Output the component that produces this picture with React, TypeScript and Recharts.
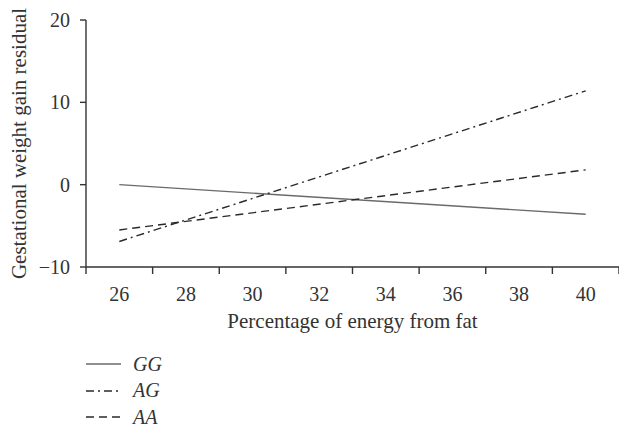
import { LineChart, Line, XAxis, YAxis } from 'recharts';

const fatPct = [26, 40];
const ggResidual = [0, -3.6];
const agResidual = [-6.9, 11.4];
const aaResidual = [-5.5, 1.8];

const xTicks = [25, 26, 27, 28, 29, 30, 31, 32, 33, 34, 35, 36, 37, 38, 39, 40, 41];
const yTicks = [-10, 0, 10, 20];

const series = [
  { key: 'GG', color: '#6a6a6a', dash: undefined as string | undefined },
  { key: 'AG', color: '#2a2a2a', dash: '8 4 2 4' },
  { key: 'AA', color: '#2a2a2a', dash: '8 5' },
];

const data = fatPct.map((x, i) => ({
  x,
  GG: ggResidual[i],
  AG: agResidual[i],
  AA: aaResidual[i],
}));

const FONT = '"Liberation Serif", "DejaVu Serif", serif';
const INK = '#333';
const TICK_SIZE = 7;
const TICK_MARGIN = 13;

// odd values get a tick mark only, even values get the label only
function XTick(props: any) {
  const { x, y, payload } = props;
  const v = payload.value;
  if (v % 2 !== 0) {
    const axisY = y - TICK_SIZE - TICK_MARGIN;
    return <line x1={x} x2={x} y1={axisY} y2={axisY + TICK_SIZE} stroke={INK} strokeWidth={1.4} />;
  }
  return (
    <text x={x} y={y} dy='0.71em' textAnchor='middle' fill={INK} fontSize={20} fontFamily={FONT}>
      {v}
    </text>
  );
}

function LegendBox() {
  return (
    <div style={{ position: 'absolute', left: 86, top: 351, fontFamily: FONT, color: INK }}>
      {series.map((s) => (
        <div key={s.key} style={{ display: 'flex', alignItems: 'center', height: 26.5 }}>
          <svg width={35} height={6}>
            <line x1={0} x2={35} y1={3} y2={3} stroke={s.color} strokeWidth={1.4} strokeDasharray={s.dash} />
          </svg>
          <span style={{ marginLeft: 12, fontSize: 20, fontStyle: 'italic' }}>{s.key}</span>
        </div>
      ))}
    </div>
  );
}

export default function App() {
  return (
    <div style={{ position: 'absolute', left: 0, top: 0, width: 619, height: 427, background: '#fff' }}>
      <LineChart width={619} height={427} data={data} margin={{ top: 20, right: 0, bottom: 0, left: 0 }}>
        <XAxis
          dataKey='x'
          type='number'
          domain={[25, 41]}
          ticks={xTicks}
          interval={0}
          height={160}
          tickSize={TICK_SIZE}
          tickMargin={TICK_MARGIN}
          tickLine={false}
          tick={<XTick />}
          axisLine={{ stroke: INK, strokeWidth: 1.4 }}
          label={{
            value: 'Percentage of energy from fat',
            position: 'insideTop',
            offset: 46,
            style: { fill: INK, fontSize: 21, fontFamily: FONT },
          }}
        />
        <YAxis
          type='number'
          domain={[-10, 20]}
          ticks={yTicks}
          width={86}
          tickSize={6}
          tickMargin={10}
          tickFormatter={(v: number) => (v < 0 ? '\u2212' + Math.abs(v) : String(v))}
          tick={{ fill: INK, fontSize: 20, fontFamily: FONT }}
          tickLine={{ stroke: INK, strokeWidth: 1.4 }}
          axisLine={{ stroke: INK, strokeWidth: 1.4 }}
          label={{
            value: 'Gestational weight gain residual',
            angle: -90,
            position: 'insideLeft',
            offset: 19,
            style: { fill: INK, fontSize: 21, fontFamily: FONT, textAnchor: 'middle' },
          }}
        />
        {series.map((s) => (
          <Line
            key={s.key}
            dataKey={s.key}
            stroke={s.color}
            strokeWidth={1.4}
            strokeDasharray={s.dash}
            dot={false}
            activeDot={false}
            isAnimationActive={false}
          />
        ))}
      </LineChart>
      <LegendBox />
    </div>
  );
}
